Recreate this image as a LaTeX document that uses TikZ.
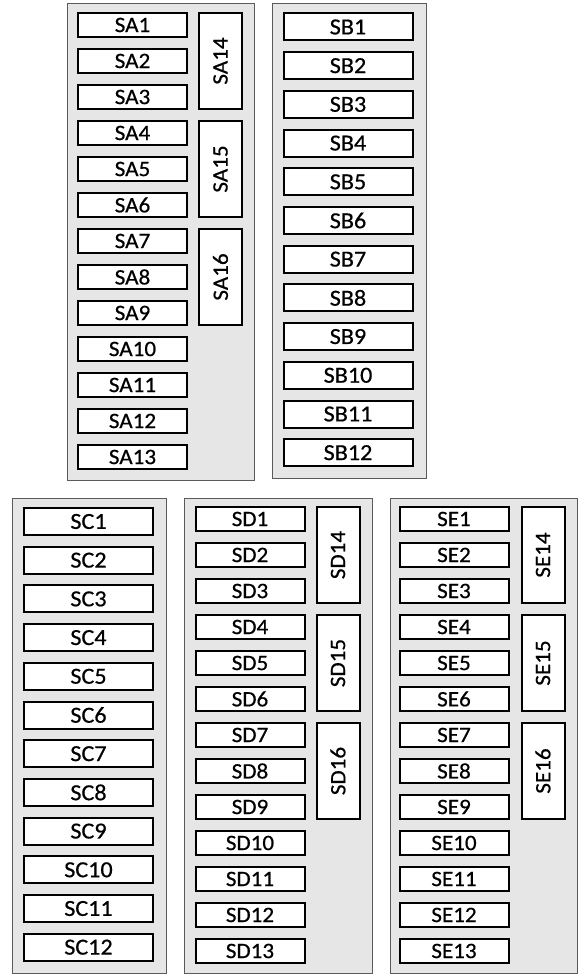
\documentclass[tikz,border=0pt]{standalone}
\usepackage{fontspec}
\setmainfont{Carlito}[FakeStretch=1.05, FakeBold=0.6]
\usepackage{tikz}
\usetikzlibrary{positioning}
\definecolor{cPanel}{HTML}{E6E6E6}
\definecolor{cEdge}{HTML}{5A5A5A}
\tikzset{
  panel/.style = {draw=cEdge, fill=cPanel, line width=1pt, inner sep=0pt},
  slot/.style  = {draw=black, fill=white, line width=2pt, inner sep=0pt,
                  font=\fontsize{22}{22}\selectfont},
  small/.style = {slot, minimum width=109pt, minimum height=24pt},
  wide/.style  = {slot, minimum width=129pt, minimum height=27pt,
                  font=\fontsize{23}{23}\selectfont},
  tall/.style  = {slot, rotate=90, minimum width=96pt, minimum height=43pt},
}
\begin{document}
\begin{tikzpicture}[x=1pt, y=-1pt]
  \useasboundingbox (0,0) rectangle (585,979);
  % top row
  \node[panel, minimum width=187pt, minimum height=476pt] (pa) at (160.5,242) {};
  \node[panel, minimum width=154pt, minimum height=474pt] (pb) at (349,241) {};
  % bottom row
  \node[panel, minimum width=154pt, minimum height=475pt] (pc) at (89,735.5) {};
  \node[panel, minimum width=188pt, minimum height=475pt] (pd) at (278,735.5) {};
  \node[panel, minimum width=187pt, minimum height=475pt] (pe) at (483.5,735.5) {};
  % slots
  \foreach \i [evaluate=\i as \y using 25+36*(\i-1)] in {1,...,13}
    \node[small] (sa\i) at (132.5,\y) {SA\i};
  \foreach \i [evaluate=\i as \y using 61+108*(\i-14)] in {14,15,16}
    \node[tall] (sa\i) at (220.5,\y) {SA\i};
  \foreach \i [evaluate=\i as \y using 27+38.7*(\i-1)] in {1,...,12}
    \node[wide] (sb\i) at (348,\y) {SB\i};
  \foreach \i [evaluate=\i as \y using 521.5+38.7*(\i-1)] in {1,...,12}
    \node[wide] (sc\i) at (88.5,\y) {SC\i};
  \foreach \i [evaluate=\i as \y using 519+36*(\i-1)] in {1,...,13} {
    \node[small] (sd\i) at (250,\y) {SD\i};
    \node[small] (se\i) at (454,\y) {SE\i};
  }
  \foreach \i [evaluate=\i as \y using 555+108*(\i-14)] in {14,15,16} {
    \node[tall] (sd\i) at (338,\y) {SD\i};
    \node[tall] (se\i) at (543,\y) {SE\i};
  }
\end{tikzpicture}
\end{document}
